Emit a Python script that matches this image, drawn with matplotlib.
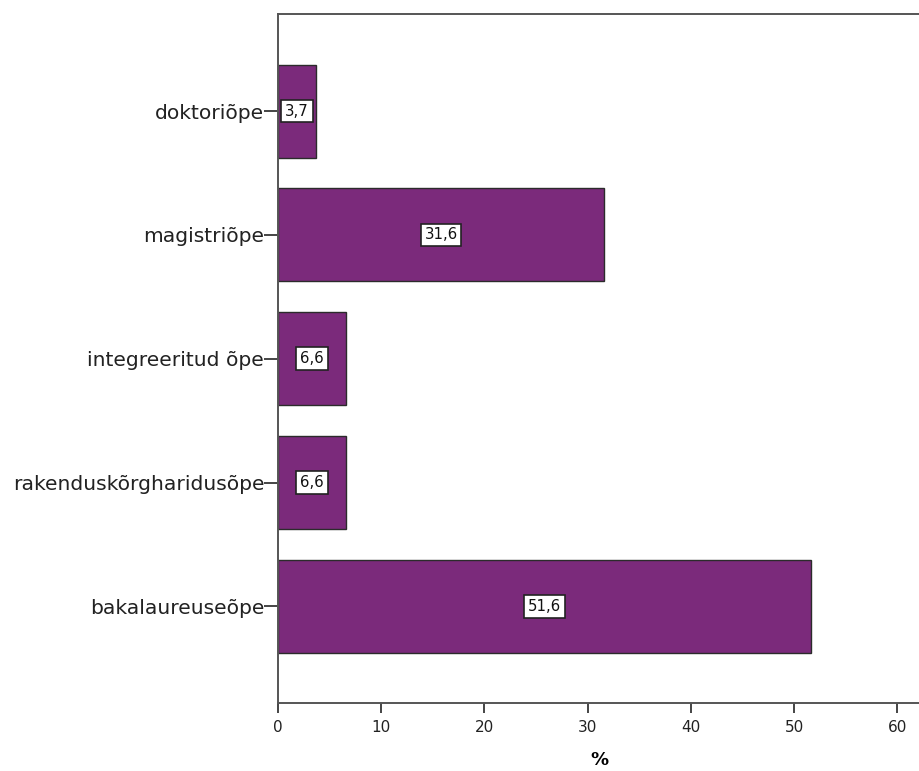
import matplotlib.pyplot as plt

categories = ["bakalaureuseõpe", "rakenduskõrgharidusõpe", "integreeritud õpe", "magistriõpe", "doktoriõpe"]
percent = [51.6, 6.6, 6.6, 31.6, 3.7]

plt.rcParams['font.family'] = ['DejaVu Sans']

fig = plt.figure(figsize=(9.2, 7.71), dpi=100)
ax = fig.add_axes([0.3022, 0.0882, 0.6978, 0.893])

ypos = list(range(len(categories)))
ax.barh(ypos, percent, height=0.75, color='#7B2A7B', edgecolor='#2b2b2b', linewidth=1)

# value labels in white boxes
for y, v in zip(ypos, percent):
    ax.text(v / 2, y, f"{v:.1f}".replace('.', ','), ha='center', va='center', fontsize=10.8,
            color='#111111',
            bbox=dict(boxstyle='square,pad=0.25', facecolor='white', edgecolor='#222222', linewidth=1.2))

ax.set_yticks(ypos)
ax.set_yticklabels(categories, fontsize=14.6, color='#222222')
ax.set_ylim(-0.78, 4.78)
ax.set_xlim(0, 62.2)
ax.set_xticks([0, 10, 20, 30, 40, 50, 60])
ax.tick_params(axis='x', labelsize=11, length=7, width=1.4, colors='#444444', labelcolor='#222222', pad=5)
ax.tick_params(axis='y', length=10, width=1.4, colors='#444444', labelcolor='#222222', pad=0)
ax.set_xlabel('%', fontsize=13, fontweight='bold', labelpad=12)

for s in ['left', 'bottom', 'top']:
    ax.spines[s].set_color('#555555')
    ax.spines[s].set_linewidth(1.4)
ax.spines['right'].set_visible(False)

fig.savefig('out.png', dpi=100)
